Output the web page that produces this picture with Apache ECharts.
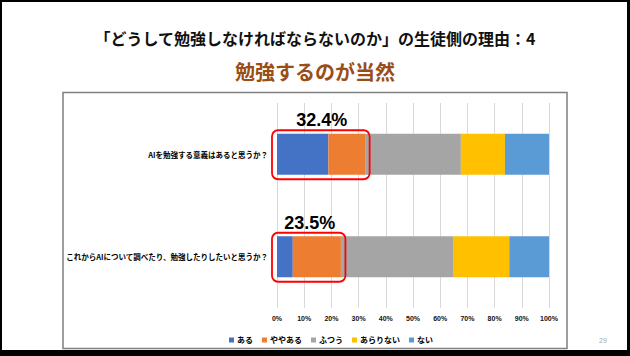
<!DOCTYPE html>
<html>
<head>
<meta charset="utf-8">
<script src="https://cdn.jsdelivr.net/npm/echarts@6/dist/echarts.min.js"></script>
<style>
html,body{margin:0;padding:0;background:#fff;}
#chart{width:630px;height:356px;}
</style>
</head>
<body>
<div id="chart"></div>
<script>
// ---- data ----
const categories = ['AIを勉強する意義はあると思うか？', 'これからAIについて調べたり、勉強したりしたいと思うか？'];
const seriesNames = ['ある', 'ややある', 'ふつう', 'あらりない', 'ない'];
const aru = [18.9, 5.8];
const yayaAru = [13.5, 17.7];
const futsuu = [35.2, 41.2];
const amariNai = [16.2, 20.7];
const nai = [16.2, 14.6];
const highlightTotals = [32.4, 23.5];
const highlightLabels = ['32.4%', '23.5%'];
const titleText = '「どうして勉強しなければならないのか」の生徒側の理由：4';
const subtitleText = '勉強するのが当然';
const pageNumber = '29';

const colors = ['#4472C4', '#ED7D31', '#A5A5A5', '#FFC000', '#5B9BD5'];
const values = [aru, yayaAru, futsuu, amariNai, nai];
const BAR_W = 41;
const JP = '"Noto Sans CJK JP", "Noto Sans", sans-serif';

const chart = echarts.init(document.getElementById('chart'), null, {renderer: 'svg'});

const barSeries = seriesNames.map((n, i) => ({
  name: n,
  type: 'bar',
  stack: 'total',
  barWidth: BAR_W,
  itemStyle: {color: colors[i]},
  data: values[i],
  z: 2
}));

const highlightSeries = {
  type: 'custom',
  name: 'highlight',
  z: 10,
  silent: true,
  encode: {x: 0, y: 1},
  data: highlightTotals.map((t, i) => [t, i, highlightLabels[i]]),
  renderItem: function (params, api) {
    const cat = api.value(1);
    const total = api.value(0);
    const p0 = api.coord([0, cat]);
    const p1 = api.coord([total, cat]);
    const x = p0[0] - 5;
    const w = p1[0] - p0[0] + 9.5;
    const y = p0[1] - BAR_W / 2 - 3.5;
    const h = BAR_W + 8;
    return {
      type: 'group',
      children: [
        {type: 'rect', shape: {x: x, y: y, width: w, height: h, r: 6},
         style: {fill: 'none', stroke: '#FF0000', lineWidth: 1.8}},
        {type: 'text', style: {text: api.value(2), x: x + w / 2 + 1, y: y - 10,
          align: 'center', verticalAlign: 'middle', fill: '#000',
          font: 'bold 18px "Liberation Sans", sans-serif'}}
      ]
    };
  }
};

chart.setOption({
  animation: false,
  title: [
    {text: titleText, left: 'center', top: 25,
     textStyle: {fontSize: 16, fontWeight: 'bold', color: '#111', fontFamily: JP}},
    {text: subtitleText, left: 'center', top: 56,
     textStyle: {fontSize: 20, fontWeight: 'bold', color: '#9A4E16', fontFamily: JP}}
  ],
  grid: {left: 277, right: 81, top: 103, bottom: 48},
  legend: {
    data: seriesNames,
    left: 224, top: 331,
    icon: 'rect', itemWidth: 5, itemHeight: 5, itemGap: 9,
    textStyle: {fontSize: 8, fontWeight: 'bold', color: '#000', fontFamily: JP, padding: [0, 0, 0, -2]}
  },
  xAxis: {
    type: 'value', min: 0, max: 100, interval: 10,
    axisLine: {show: false}, axisTick: {show: false},
    splitLine: {lineStyle: {color: '#D9D9D9', width: 1}},
    axisLabel: {formatter: '{value}%', fontSize: 7, fontWeight: 'bold', color: '#111', margin: 7,
      fontFamily: '"Liberation Sans", sans-serif'}
  },
  yAxis: {
    type: 'category', inverse: true, data: categories,
    axisLine: {show: false}, axisTick: {show: false},
    axisLabel: {fontSize: 7.5, fontWeight: 'bold', color: '#000', margin: 9, fontFamily: JP}
  },
  graphic: [
    {type: 'rect', silent: true, z: -1, shape: {x: 63, y: 92.5, width: 504, height: 256},
     style: {fill: 'none', stroke: '#7F7F7F', lineWidth: 1.5}},
    {type: 'rect', silent: true, z: 100, shape: {x: 0, y: 0, width: 630, height: 2}, style: {fill: '#000'}},
    {type: 'rect', silent: true, z: 100, shape: {x: 0, y: 0, width: 2, height: 356}, style: {fill: '#000'}},
    {type: 'rect', silent: true, z: 100, shape: {x: 627, y: 0, width: 3, height: 356}, style: {fill: '#000'}},
    {type: 'rect', silent: true, z: 100, shape: {x: 0, y: 350, width: 630, height: 6}, style: {fill: '#000'}},
    {type: 'text', silent: true, style: {text: pageNumber, x: 603, y: 340, align: 'center', verticalAlign: 'middle',
      fill: '#A6A6A6', font: '7px "Liberation Sans", sans-serif'}}
  ],
  series: barSeries.concat([highlightSeries])
});
</script>
</body>
</html>
